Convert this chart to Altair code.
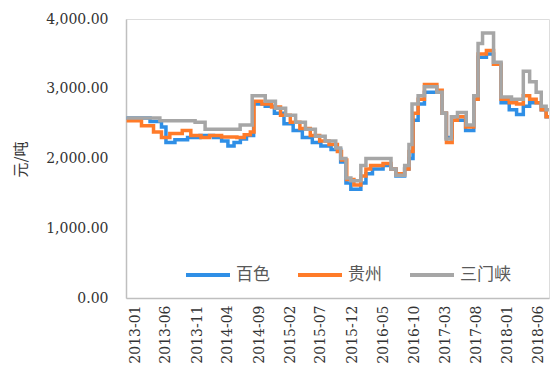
import altair as alt
import pandas as pd

# Series order: 百色, 贵州, 三门峡 (三门峡 is drawn last, on top)
series_names = ["百色", "贵州", "三门峡"]
series_colors = ["#2f8fe6", "#ff7b29", "#a6a6a6"]

baise_dates = [
    "2012-11-20", "2013-03-15", "2013-05-10", "2013-06-01", "2013-07-15",
    "2013-09-15", "2013-11-15", "2014-01-20", "2014-03-01", "2014-04-01",
    "2014-05-01", "2014-06-01", "2014-07-01", "2014-08-05", "2014-10-01",
    "2014-11-15", "2015-01-01", "2015-02-15", "2015-04-01", "2015-05-20",
    "2015-07-01", "2015-08-20", "2015-10-06", "2015-11-01", "2015-11-25",
    "2016-01-13", "2016-02-07", "2016-03-10", "2016-05-01", "2016-06-09",
    "2016-07-03", "2016-08-15", "2016-09-05", "2016-09-25", "2016-10-20",
    "2016-11-20", "2017-01-20", "2017-02-15", "2017-03-08", "2017-04-05",
    "2017-05-01", "2017-06-10", "2017-07-20", "2017-08-10", "2017-09-20",
    "2017-10-25", "2017-12-01", "2018-01-10", "2018-02-15", "2018-03-20",
    "2018-04-20", "2018-05-22", "2018-06-16", "2018-07-10", "2018-07-24",
]
baise_vals = [
    2580, 2530, 2450, 2230, 2270,
    2300, 2330, 2300, 2250, 2180,
    2230, 2280, 2330, 2780, 2750,
    2650, 2500, 2400, 2300, 2230,
    2180, 2130, 1950, 1650, 1560,
    1650, 1780, 1850, 1900, 1850,
    1750, 1850, 2000, 2550, 2780,
    2950, 2950, 2650, 2300, 2550,
    2550, 2400, 2850, 3450, 3500,
    3350, 2800, 2700, 2630, 2750,
    2800, 2800, 2700, 2600, 2600,
]

guizhou_dates = [
    "2012-11-20", "2013-02-01", "2013-04-01", "2013-05-10", "2013-06-20",
    "2013-08-20", "2013-10-01", "2013-11-20", "2014-01-01", "2014-03-01",
    "2014-05-15", "2014-06-20", "2014-07-20", "2014-08-07", "2014-09-15",
    "2014-11-01", "2014-12-15", "2015-02-01", "2015-03-20", "2015-05-10",
    "2015-06-25", "2015-08-10", "2015-09-20", "2015-10-10", "2015-11-05",
    "2015-12-10", "2016-01-13", "2016-02-07", "2016-03-01", "2016-05-01",
    "2016-06-09", "2016-07-03", "2016-08-15", "2016-09-05", "2016-09-25",
    "2016-10-20", "2016-11-20", "2017-01-20", "2017-02-15", "2017-03-08",
    "2017-04-05", "2017-05-01", "2017-06-10", "2017-07-20", "2017-08-10",
    "2017-09-20", "2017-10-25", "2017-12-01", "2018-01-10", "2018-02-15",
    "2018-03-20", "2018-04-20", "2018-05-22", "2018-06-16", "2018-07-10",
    "2018-07-24",
]
guizhou_vals = [
    2540, 2470, 2380, 2300, 2360,
    2400, 2330, 2300, 2330, 2310,
    2300, 2340, 2380, 2820, 2780,
    2740, 2620, 2520, 2430, 2330,
    2250, 2200, 2100, 1980, 1700,
    1620, 1750, 1850, 1900, 1930,
    1850, 1780, 1850, 2100, 2650,
    2850, 3060, 2980, 2650, 2230,
    2550, 2600, 2450, 2850, 3500,
    3550, 3350, 2850, 2800, 2780,
    2900, 2850, 2800, 2700, 2600,
    2600,
]

sanmenxia_dates = [
    "2012-11-20", "2013-05-02", "2013-10-22", "2013-12-10", "2014-05-31",
    "2014-07-29", "2014-10-01", "2014-11-20", "2015-01-09", "2015-02-27",
    "2015-04-16", "2015-06-04", "2015-07-22", "2015-09-12", "2015-10-06",
    "2015-11-01", "2015-11-25", "2016-01-13", "2016-02-07", "2016-06-09",
    "2016-07-03", "2016-08-15", "2016-09-05", "2016-09-20", "2016-10-20",
    "2016-11-20", "2017-01-20", "2017-02-15", "2017-03-06", "2017-04-01",
    "2017-05-01", "2017-06-13", "2017-07-20", "2017-08-10", "2017-09-01",
    "2017-10-25", "2017-12-01", "2018-01-21", "2018-03-20", "2018-04-20",
    "2018-05-22", "2018-06-16", "2018-07-10", "2018-07-24",
]
sanmenxia_vals = [
    2580, 2540, 2520, 2420, 2480,
    2900, 2820, 2720, 2620, 2520,
    2420, 2320, 2250, 2150, 2000,
    1720, 1680, 1900, 2000, 1850,
    1760, 1900, 2200, 2780, 2900,
    3030, 2950, 2650, 2280, 2600,
    2660, 2480, 2900, 3650, 3800,
    3380, 2880, 2850, 3250, 3100,
    2950, 2750, 2700, 2700,
]

tick_dates = ["2013-01-01", "2013-06-01", "2013-11-01", "2014-04-01", "2014-09-01",
              "2015-02-01", "2015-07-01", "2015-12-01", "2016-05-01", "2016-10-01",
              "2017-03-01", "2017-08-01", "2018-01-01", "2018-06-01"]
y_ticks = [0, 1000, 2000, 3000, 4000]

frames = []
for name, dates, vals in [
    ("百色", baise_dates, baise_vals),
    ("贵州", guizhou_dates, guizhou_vals),
    ("三门峡", sanmenxia_dates, sanmenxia_vals),
]:
    frames.append(pd.DataFrame({"date": dates, "price": vals, "region": name}))
df = pd.concat(frames, ignore_index=True)
df["date"] = df["date"] + "T00:00:00"


def to_dt(s):
    y, m, d = (int(p) for p in s.split("-"))
    return alt.DateTime(year=y, month=m, date=d)


x_axis = alt.Axis(
    values=[to_dt(t) for t in tick_dates],
    format="%Y-%m",
    labelAngle=270,
    labelAlign="right",
    labelBaseline="middle",
    labelFont="DejaVu Serif",
    labelFontSize=14,
    labelColor="#333333",
    labelPadding=7,
    ticks=False,
    grid=False,
    domainColor="#bfbfbf",
    domainWidth=1.5,
    title=None,
    labelOverlap=False,
)

y_axis = alt.Axis(
    values=y_ticks,
    format=",.2f",
    labelFont="DejaVu Serif",
    labelFontSize=14,
    labelColor="#333333",
    labelPadding=18,
    ticks=False,
    grid=False,
    domainColor="#bfbfbf",
    domainWidth=1.5,
    title="元/吨",
    titleFont="Noto Sans CJK SC",
    titleFontSize=15,
    titleFontWeight="normal",
    titleColor="#333333",
    titleAngle=270,
    titleAlign="center",
    titleBaseline="middle",
    titleX=-106,
    titleY=140,
)

chart = (
    alt.Chart(df)
    .mark_line(interpolate="step-after", strokeWidth=3.5)
    .encode(
        x=alt.X(
            "date:T",
            axis=x_axis,
            scale=alt.Scale(domain=[to_dt("2012-11-17"), to_dt("2018-07-24")], nice=False),
        ),
        y=alt.Y("price:Q", axis=y_axis, scale=alt.Scale(domain=[0, 4000], nice=False)),
        color=alt.Color(
            "region:N",
            sort=series_names,
            scale=alt.Scale(domain=series_names, range=series_colors),
            legend=alt.Legend(
                title=None,
                orient="none",
                legendX=58,
                legendY=232,
                direction="horizontal",
                symbolType="stroke",
                symbolSize=1936,
                symbolStrokeWidth=4,
                labelFont="Noto Sans CJK SC",
                labelFontSize=17,
                labelColor="#595959",
                labelOffset=4,
                columnPadding=20,
            ),
        ),
    )
    .properties(
        width=423,
        height=279,
        autosize=alt.AutoSizeParams(type="none"),
        padding={"left": 126, "top": 19, "right": 2, "bottom": 80},
    )
    .configure_view(stroke=None)
    .configure(background="white")
)

chart.save("out.html", embed_options={"renderer": "svg", "actions": False})
